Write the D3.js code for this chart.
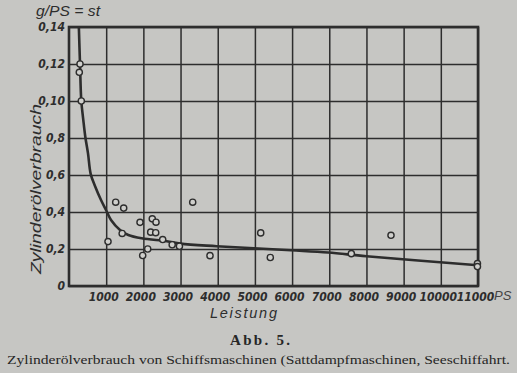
<!DOCTYPE html>
<html><head><meta charset="utf-8">
<script src="https://cdn.jsdelivr.net/npm/d3@7/dist/d3.min.js"></script>
<style>
html,body{margin:0;padding:0;background:#c6c6c3;}
svg{display:block;}
</style></head>
<body>
<svg id="chart" width="517" height="373"></svg>
<script>
// ---- data ----
const xTickValues = [1000,2000,3000,4000,5000,6000,7000,8000,9000,10000,11000];
const yTickValues = [0,0.2,0.4,0.6,0.8,1.0,1.2,1.4];
const yTickLabels = ["0","0,2","0,4","0,6","0,8","0,10","0,12","0,14"];

const pointX = [296,277,331,1049,1256,1471,1430,1910,2240,2340,2197,2332,2520,2117,1982,2775,2970,3327,3792,5156,5414,7593,8660,10985,10985];
const pointY = [1.2,1.155,1.0,0.240,0.453,0.421,0.284,0.344,0.363,0.345,0.291,0.288,0.251,0.200,0.165,0.223,0.215,0.453,0.164,0.287,0.154,0.175,0.274,0.121,0.105];

const curveX = [262,296,331,385,438,511,584,707,861,995,1130,1372,1595,1955,2630,3000,3970,5970,6970,8000,11000];
const curveY = [1.42,1.2,1.0,0.897,0.807,0.717,0.605,0.537,0.465,0.411,0.357,0.303,0.276,0.258,0.242,0.229,0.215,0.193,0.181,0.161,0.112];

const texts = {
  yUnit: "g/PS = st",
  yTitle: "Zylinderölverbrauch",
  xTitle: "Leistung",
  xUnit: "PS",
  fig: "Abb. 5.",
  caption: "Zylinderölverbrauch von Schiffsmaschinen (Sattdampfmaschinen, Seeschiffahrt."
};

// ---- layout ----
const ink = "#2d2d2d";
const L = 69, R = 478, T = 27, B = 286;
const svg = d3.select("#chart");

const x = d3.scaleLinear().domain([0,11000]).range([L,R]);
const y = d3.scaleLinear().domain([0,1.4]).range([B,T]);

const tickFont = "'Liberation Sans Narrow','DejaVu Sans Condensed',sans-serif";

// grid + x ticks
const gx = svg.append("g").attr("transform",`translate(0,${B})`)
  .call(d3.axisBottom(x).tickValues(xTickValues).tickSizeInner(-(B-T)).tickSizeOuter(0).tickPadding(6).tickFormat(d3.format("d")));
gx.select(".domain").remove();
gx.selectAll(".tick line").attr("stroke",ink).attr("stroke-width",1.5);
gx.selectAll(".tick text").attr("fill",ink).attr("font-family",tickFont)
  .attr("font-style","italic").attr("font-weight","bold").attr("font-size",12).attr("dx",-3);

const gy = svg.append("g").attr("transform",`translate(${L},0)`)
  .call(d3.axisLeft(y).tickValues(yTickValues).tickSizeInner(-(R-L)).tickSizeOuter(0).tickPadding(4)
    .tickFormat((d,i)=>yTickLabels[i]));
gy.select(".domain").remove();
gy.selectAll(".tick line").attr("stroke",ink).attr("stroke-width",1.5);
gy.selectAll(".tick text").attr("fill",ink).attr("font-family",tickFont)
  .attr("font-style","italic").attr("font-weight","bold").attr("font-size",12);

// frame
svg.append("rect").attr("x",L).attr("y",T).attr("width",R-L).attr("height",B-T)
  .attr("fill","none").attr("stroke",ink).attr("stroke-width",2.6);

// curve
svg.append("clipPath").attr("id","clip").append("rect").attr("x",L).attr("y",T).attr("width",R-L).attr("height",B-T);
const line = d3.line().x((d,i)=>x(curveX[i])).y((d,i)=>y(curveY[i])).curve(d3.curveCatmullRom.alpha(0.5));
svg.append("path").attr("d",line(curveX)).attr("clip-path","url(#clip)")
  .attr("fill","none").attr("stroke",ink).attr("stroke-width",2.6).attr("stroke-linejoin","round");

// points
svg.append("g").selectAll("circle").data(pointX).join("circle")
  .attr("cx",(d,i)=>x(pointX[i])).attr("cy",(d,i)=>y(pointY[i])).attr("r",3.1)
  .attr("fill","#cfcfcc").attr("stroke",ink).attr("stroke-width",1.4);

// titles
const titleFont = "'Liberation Sans','DejaVu Sans',sans-serif";
svg.append("text").attr("x",36).attr("y",16).text(texts.yUnit)
  .attr("font-family",titleFont).attr("font-style","italic").attr("font-size",14).attr("fill",ink)
  .attr("textLength",64).attr("lengthAdjust","spacingAndGlyphs");
svg.append("text").attr("transform","translate(41,274) rotate(-90)").text(texts.yTitle)
  .attr("font-family",titleFont).attr("font-style","italic").attr("font-size",15).attr("fill",ink)
  .attr("textLength",170).attr("lengthAdjust","spacingAndGlyphs");
svg.append("text").attr("x",210).attr("y",318).text(texts.xTitle)
  .attr("font-family",titleFont).attr("font-style","italic").attr("font-size",14.5).attr("fill",ink)
  .attr("textLength",67).attr("lengthAdjust","spacing");
svg.append("text").attr("x",494).attr("y",300).text(texts.xUnit)
  .attr("font-family",titleFont).attr("font-style","italic").attr("font-size",13).attr("fill","#444");

// figure label + caption
svg.append("text").attr("x",230).attr("y",345).text(texts.fig)
  .attr("font-family","'Liberation Serif','DejaVu Serif',serif").attr("font-weight","bold").attr("font-size",15)
  .attr("fill","#262626").attr("textLength",60).attr("lengthAdjust","spacing");
svg.append("text").attr("x",7).attr("y",364).text(texts.caption)
  .attr("font-family","'Liberation Serif','DejaVu Serif',serif").attr("font-size",13.2)
  .attr("fill","#262626").attr("textLength",503).attr("lengthAdjust","spacingAndGlyphs");
</script>
</body></html>
